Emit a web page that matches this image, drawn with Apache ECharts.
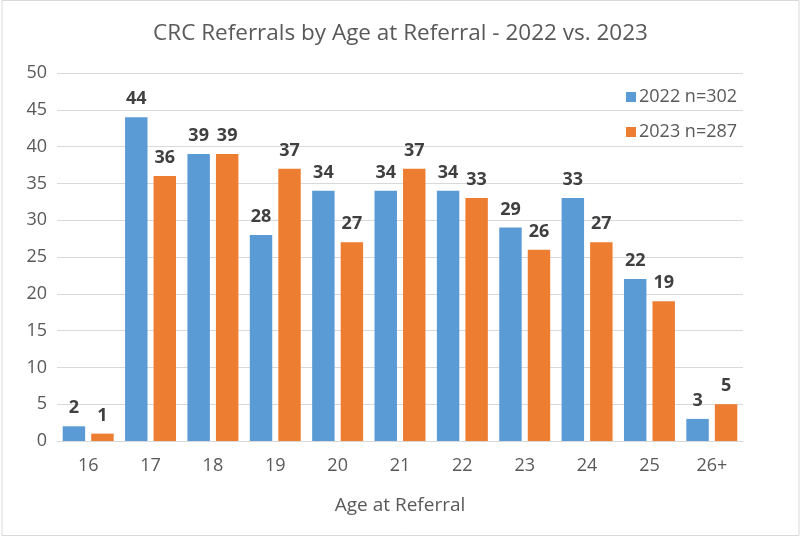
<!DOCTYPE html>
<html>
<head>
<meta charset="utf-8">
<script src="https://cdn.jsdelivr.net/npm/echarts@6/dist/echarts.min.js"></script>
<style>
	html, body { margin: 0; padding: 0; background: #fff; }
	#chart { width: 801px; height: 537px; }
</style>
</head>
<body>
<div id="chart"></div>
<script>
var ages = ['16', '17', '18', '19', '20', '21', '22', '23', '24', '25', '26+'];
var refs2022 = [2, 44, 39, 28, 34, 34, 34, 29, 33, 22, 3];
var refs2023 = [1, 36, 39, 37, 27, 37, 33, 26, 27, 19, 5];
var yTicks = { min: 0, max: 50, interval: 5 };

var fontName = '"Open Sans", "Noto Sans", sans-serif';

var mainChart = echarts.init(document.getElementById('chart'));

var labelStyle = {
	show: true,
	position: 'top',
	distance: 9,
	color: '#404040',
	fontWeight: 'bold',
	fontSize: 18,
	fontFamily: fontName
};

mainChart.setOption({
	animation: false,
	backgroundColor: '#fff',
	graphic: [{
		type: 'rect',
		shape: { x: 2, y: 0.5, width: 797, height: 535 },
		style: { fill: 'none', stroke: '#d9d9d9', lineWidth: 1 },
		silent: true
	}],
	title: {
		text: 'CRC Referrals by Age at Referral - 2022 vs. 2023',
		left: 'center',
		top: 17,
		textStyle: {
			color: '#595959',
			fontSize: 22.5,
			fontWeight: 'normal',
			fontFamily: fontName
		}
	},
	legend: {
		orient: 'vertical',
		left: 621,
		top: 82,
		itemWidth: 10,
		itemHeight: 10,
		itemGap: 15,
		icon: 'rect',
		selectedMode: false,
		textStyle: {
			color: '#595959',
			fontSize: 18,
			lineHeight: 20,
			fontFamily: fontName,
			padding: [0, 0, 0, -2]
		},
		data: ['2022 n=302', '2023 n=287']
	},
	grid: {
		left: 57,
		right: 58,
		top: 73,
		bottom: 96
	},
	xAxis: {
		type: 'category',
		data: ages,
		name: 'Age at Referral',
		nameLocation: 'middle',
		nameGap: 55,
		nameTextStyle: {
			color: '#595959',
			fontSize: 19,
			fontFamily: fontName
		},
		axisLine: { lineStyle: { color: '#d9d9d9', width: 1 } },
		axisTick: { show: false },
		axisLabel: {
			color: '#595959',
			fontSize: 18,
			margin: 16,
			fontFamily: fontName
		}
	},
	yAxis: {
		type: 'value',
		min: yTicks.min,
		max: yTicks.max,
		interval: yTicks.interval,
		axisLine: { show: false },
		axisTick: { show: false },
		axisLabel: {
			color: '#595959',
			fontSize: 18,
			margin: 10,
			fontFamily: fontName
		},
		splitLine: { lineStyle: { color: '#d9d9d9', width: 1 } }
	},
	series: [{
		name: '2022 n=302',
		type: 'bar',
		data: refs2022,
		barWidth: '36%',
		barGap: '27%',
		itemStyle: { color: '#5b9bd5' },
		label: labelStyle
	}, {
		name: '2023 n=287',
		type: 'bar',
		data: refs2023,
		barWidth: '36%',
		itemStyle: { color: '#ed7d31' },
		label: labelStyle
	}]
});
</script>
</body>
</html>
